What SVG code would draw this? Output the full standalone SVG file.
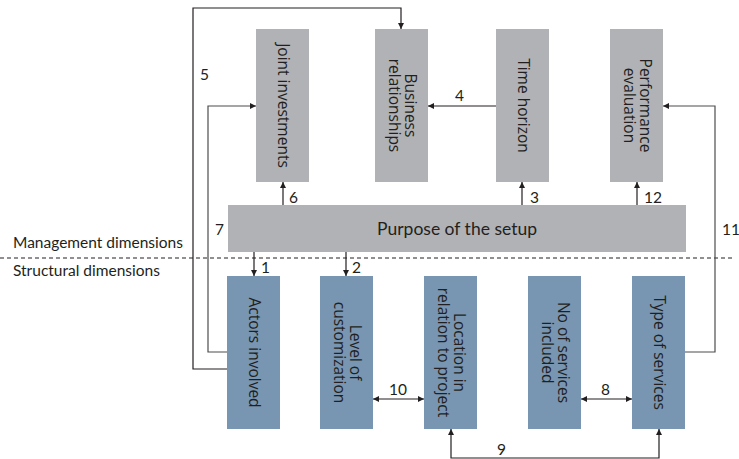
<svg xmlns="http://www.w3.org/2000/svg" width="739" height="459" viewBox="0 0 739 459">
<style>
.mg{fill:#b1b2b6}
.st{fill:#7896b2}
.bt{font-family:"Open Sans","DejaVu Sans",sans-serif;font-size:15.5px;fill:#231f20;text-anchor:middle}
.lb{font-family:Lato,"Liberation Sans",sans-serif;font-size:15.5px;fill:#231f20}
.pt{font-size:17.5px;text-anchor:middle}
.ln{fill:none;stroke:#231f20;stroke-width:1.2}
.lg{fill:none;stroke:#4d4d4f;stroke-width:1.2}
</style>
<defs>
<marker id="ah" viewBox="0 0 6 6" refX="6" refY="3" markerWidth="6" markerHeight="6" markerUnits="userSpaceOnUse" orient="auto-start-reverse">
<path d="M0,0 L6,3 L0,6 z" fill="#231f20"/>
</marker>
</defs>
<rect width="739" height="459" fill="#fff"/>

<g id="dimensions">
<line x1="0" y1="258" x2="732" y2="258" stroke="#231f20" stroke-width="1" stroke-dasharray="4,3"/>
<text class="lb" x="13" y="248">Management dimensions</text>
<text class="lb" x="13" y="276">Structural dimensions</text>
</g>

<g id="connectors">
<polyline class="ln" points="227,369 193,369 193,8 401,8 401,29" marker-end="url(#ah)"/>
<polyline class="lg" points="227,352 208,352 208,106 256,106" marker-end="url(#ah)"/>
<line class="ln" x1="496" y1="106" x2="428" y2="106" marker-end="url(#ah)"/>
<polyline class="lg" points="685,352 715,352 715,106 663,106" marker-end="url(#ah)"/>
<line class="ln" x1="283" y1="205" x2="283" y2="182" marker-end="url(#ah)"/>
<line class="ln" x1="522" y1="205" x2="522" y2="182" marker-end="url(#ah)"/>
<line class="ln" x1="637" y1="205" x2="637" y2="182" marker-end="url(#ah)"/>
<line class="ln" x1="254" y1="252" x2="254" y2="276" marker-end="url(#ah)"/>
<line class="ln" x1="346" y1="252" x2="346" y2="276" marker-end="url(#ah)"/>
<line class="ln" x1="373" y1="399" x2="424" y2="399" marker-start="url(#ah)" marker-end="url(#ah)"/>
<line class="ln" x1="581" y1="399" x2="632" y2="399" marker-start="url(#ah)" marker-end="url(#ah)"/>
<polyline class="ln" points="451,429 451,458 659,458 659,429" marker-start="url(#ah)" marker-end="url(#ah)"/>
<text class="lb" x="200" y="80">5</text>
<text class="lb" x="215" y="235">7</text>
<text class="lb" x="455" y="101">4</text>
<text class="lb" x="722" y="235">11</text>
<text class="lb" x="289" y="203">6</text>
<text class="lb" x="530" y="203">3</text>
<text class="lb" x="644" y="203">12</text>
<text class="lb" x="261" y="273">1</text>
<text class="lb" x="352" y="273">2</text>
<text class="lb" x="389" y="395">10</text>
<text class="lb" x="601" y="395">8</text>
<text class="lb" x="497" y="455">9</text>
</g>

<g id="joint-investments">
<rect class="mg" x="256" y="29" width="53" height="153"/>
<text class="bt" transform="translate(282.5,105.5) rotate(90)" y="5">Joint investments</text>
</g>
<g id="business-relationships">
<rect class="mg" x="375" y="29" width="53" height="153"/>
<text class="bt" transform="translate(401.5,105.5) rotate(90)"><tspan x="0" y="-3">Business</tspan><tspan x="0" y="13">relationships</tspan></text>
</g>
<g id="time-horizon">
<rect class="mg" x="496" y="29" width="53" height="153"/>
<text class="bt" transform="translate(522.5,105.5) rotate(90)" y="5">Time horizon</text>
</g>
<g id="performance-evaluation">
<rect class="mg" x="610" y="29" width="53" height="153"/>
<text class="bt" transform="translate(636.5,105.5) rotate(90)"><tspan x="0" y="-3">Performance</tspan><tspan x="0" y="13">evaluation</tspan></text>
</g>
<g id="purpose">
<rect class="mg" x="228" y="205" width="458" height="47"/>
<text class="lb pt" x="457" y="235">Purpose of the setup</text>
</g>

<g id="actors-involved">
<rect class="st" x="227" y="276" width="53" height="153"/>
<text class="bt" transform="translate(253.5,352.5) rotate(90)" y="5">Actors involved</text>
</g>
<g id="level-of-customization">
<rect class="st" x="320" y="276" width="53" height="153"/>
<text class="bt" transform="translate(346.5,352.5) rotate(90)"><tspan x="0" y="-3">Level of</tspan><tspan x="0" y="13">customization</tspan></text>
</g>
<g id="location">
<rect class="st" x="424" y="276" width="53" height="153"/>
<text class="bt" transform="translate(450.5,352.5) rotate(90)"><tspan x="0" y="-3">Location in</tspan><tspan x="0" y="13">relation to project</tspan></text>
</g>
<g id="no-of-services">
<rect class="st" x="528" y="276" width="53" height="153"/>
<text class="bt" transform="translate(554.5,352.5) rotate(90)"><tspan x="0" y="-3">No of services</tspan><tspan x="0" y="13">included</tspan></text>
</g>
<g id="type-of-services">
<rect class="st" x="632" y="276" width="53" height="153"/>
<text class="bt" transform="translate(658.5,352.5) rotate(90)" y="5">Type of services</text>
</g>
</svg>
